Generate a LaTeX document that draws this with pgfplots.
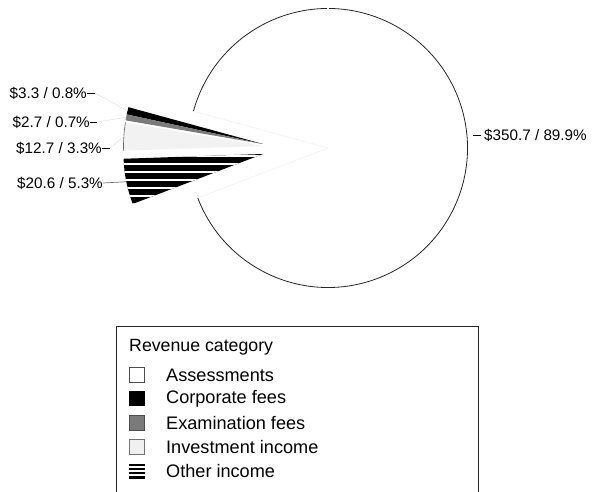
\documentclass[border=0pt]{standalone}
\usepackage{pgfplots}
\pgfplotsset{compat=1.18}
\usepackage{pgfplotstable}
\usepackage{fontspec}
\setmainfont{Liberation Sans}
\usetikzlibrary{patterns.meta,calc}

\pgfplotstableread{
name value pct
Assessments 350.7 89.9
Corporate 3.3 0.8
Examination 2.7 0.7
Investment 12.7 3.3
Other 20.6 5.3
}\revtable

\newcommand\labfont{\fontsize{15.3}{18}\selectfont}
\newcommand\legfont{\fontsize{18.2}{21}\selectfont}
\newcommand\titfont{\fontsize{17.8}{21}\selectfont}

\begin{document}
\begin{tikzpicture}
\pgfplotstablegetelem{0}{value}\of\revtable \let\vA\pgfplotsretval
\pgfplotstablegetelem{1}{value}\of\revtable \let\vB\pgfplotsretval
\pgfplotstablegetelem{2}{value}\of\revtable \let\vC\pgfplotsretval
\pgfplotstablegetelem{3}{value}\of\revtable \let\vD\pgfplotsretval
\pgfplotstablegetelem{4}{value}\of\revtable \let\vE\pgfplotsretval
\pgfmathsetmacro\tot{\vA+\vB+\vC+\vD+\vE}
\pgfmathsetmacro\sB{164.7}
\pgfmathsetmacro\eB{\sB+360*\vB/\tot}
\pgfmathsetmacro\eC{\eB+360*\vC/\tot}
\pgfmathsetmacro\eD{\eC+360*\vD/\tot}
\pgfmathsetmacro\eE{\eD+360*\vE/\tot}
\pgfmathsetmacro\eA{\sB+360}
\pgfmathsetmacro\mB{(\sB+\eB)/2}
\pgfmathsetmacro\mC{(\eB+\eC)/2}
\pgfmathsetmacro\mD{(\eC+\eD)/2}
\pgfmathsetmacro\mE{(\eD+\eE)/2}
\def\R{139.5bp}
\begin{axis}[at={(0,0)}, anchor=south west, width=594bp, height=492bp, scale only axis,
  xmin=0, xmax=594, ymin=0, ymax=492, hide axis, clip=false]
% Assessments (large slice)
\fill[white] (axis cs:328,344) -- ++(\eE:\R) arc[start angle=\eE, end angle=\eA, radius=\R] -- cycle;
\draw[black!85, line width=0.8bp] (axis cs:328,344) ++(\eE:\R) arc[start angle=\eE, end angle=\eA, radius=\R];
\draw[black!6, line width=0.5bp] (axis cs:328,344) -- ++(\eE:\R);
\draw[black!6, line width=0.5bp] (axis cs:328,344) -- ++(\sB:\R);
\draw[white, line width=1.2bp] (axis cs:328,344) ++(90:\R-3bp) -- ++(90:6bp);
% Corporate fees
\fill[black] (axis cs:263,348) -- ++(\sB:\R) arc[start angle=\sB, end angle=\eB, radius=\R] -- cycle;
% Examination fees
\fill[black!52] (axis cs:263,348) -- ++(\eB:\R) arc[start angle=\eB, end angle=\eC, radius=\R] -- cycle;
% Investment income
\fill[black!5] (axis cs:263,346) -- ++(\eC:\R) arc[start angle=\eC, end angle=\eD, radius=\R] -- cycle;
\draw[black!60, line width=0.6bp] (axis cs:263,346) ++(\eC:\R) arc[start angle=\eC, end angle=\eD, radius=\R];
% Other income
\path[fill=black, postaction={pattern={Lines[angle=0,distance=8bp,line width=1.8bp]}, pattern color=white}]
  (axis cs:263,338) -- ++(\eD:\R) arc[start angle=\eD, end angle=\eE, radius=\R] -- cycle;
% labels
\node[anchor=east, inner sep=0pt, font=\labfont] at (axis cs:87,399) {\$3.3 / 0.8\%};
\draw[black, line width=0.6bp] (axis cs:87,399) -- (axis cs:95,399);
\draw[black!12, line width=0.5bp] (axis cs:95,399) -- ($(axis cs:263,348)+(\mB:\R)$);
\node[anchor=east, inner sep=0pt, font=\labfont] at (axis cs:90,370) {\$2.7 / 0.7\%};
\draw[black, line width=0.6bp] (axis cs:90,370) -- (axis cs:97,370);
\draw[black!12, line width=0.5bp] (axis cs:97,370) -- ($(axis cs:263,348)+(\mC:\R)$);
\node[anchor=east, inner sep=0pt, font=\labfont] at (axis cs:102,344) {\$12.7 / 3.3\%};
\draw[black, line width=0.6bp] (axis cs:102,344) -- (axis cs:110,344);
\draw[black!12, line width=0.5bp] (axis cs:110,344) -- ($(axis cs:263,346)+(\mD:\R)$);
\node[anchor=east, inner sep=0pt, font=\labfont] at (axis cs:103,309) {\$20.6 / 5.3\%};
\draw[black!55, line width=0.7bp] (axis cs:103,309) -- ($(axis cs:263,338)+(\mE:\R)$);
\node[anchor=west, inner sep=0pt, font=\labfont] at (axis cs:484,357) {\$350.7 / 89.9\%};
\draw[black, line width=0.6bp] (axis cs:473,357) -- (axis cs:481,357);
% legend
\draw[black!85, line width=0.8bp] (axis cs:116,0) -- (axis cs:116,166) -- (axis cs:478,166) -- (axis cs:478,0);
\node[anchor=west, inner sep=0pt, font=\titfont] at (axis cs:129,145) {Revenue category};
\draw[black!70, fill=white, line width=0.6bp] (axis cs:129.5,109.5) rectangle (axis cs:144.5,124.5);
\node[anchor=west, inner sep=0pt, font=\legfont] at (axis cs:166,117) {Assessments};
\fill[black] (axis cs:129,86) rectangle (axis cs:145,101);
\node[anchor=west, inner sep=0pt, font=\legfont] at (axis cs:166,93) {Corporate fees};
\draw[black!70, fill=black!52, line width=0.6bp] (axis cs:129.5,61.5) rectangle (axis cs:144.5,76.5);
\node[anchor=west, inner sep=0pt, font=\legfont] at (axis cs:166,69) {Examination fees};
\draw[black!55, fill=black!6, line width=0.6bp] (axis cs:129.5,37.5) rectangle (axis cs:144.5,52.5);
\node[anchor=west, inner sep=0pt, font=\legfont] at (axis cs:166,45) {Investment income};
\fill[black] (axis cs:129,13) rectangle (axis cs:145,28);
\draw[white, line width=1.2bp] (axis cs:129,17) -- (axis cs:145,17) (axis cs:129,21) -- (axis cs:145,21) (axis cs:129,25) -- (axis cs:145,25);
\node[anchor=west, inner sep=0pt, font=\legfont] at (axis cs:166,21) {Other income};
\end{axis}
\pgfresetboundingbox
\path (0,0) rectangle (594bp,492bp);
\end{tikzpicture}
\end{document}
